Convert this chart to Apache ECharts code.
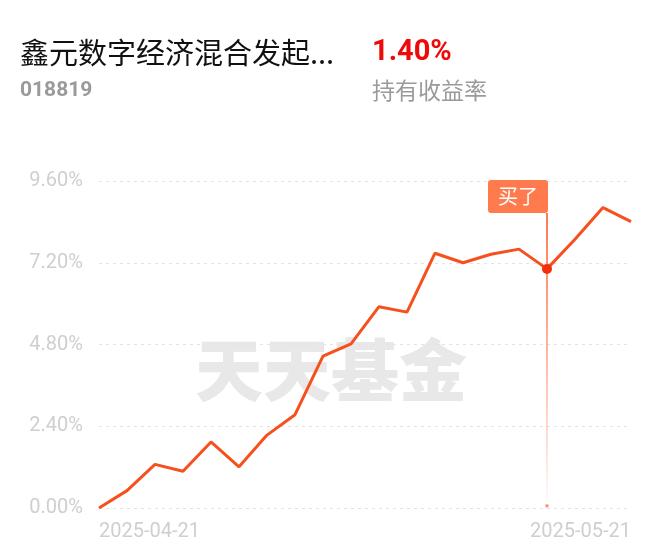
<!DOCTYPE html>
<html>
<head>
<meta charset="utf-8">
<script src="https://cdn.jsdelivr.net/npm/echarts@6/dist/echarts.min.js"></script>
<style>
html,body{margin:0;padding:0;background:#fff;}
#chart{width:662px;height:559px;}
</style>
</head>
<body>
<div id="chart"></div>
<script>
const fundName = '鑫元数字经济混合发起...';
const fundCode = '018819';
const holdReturn = '1.40%';
const holdReturnLabel = '持有收益率';
const watermark = '天天基金';
const buyLabel = '买了';
const buyDate = '2025-05-16';

const dates = ['2025-04-21','2025-04-22','2025-04-23','2025-04-24','2025-04-25',
  '2025-04-28','2025-04-29','2025-04-30','2025-05-06','2025-05-07','2025-05-08',
  '2025-05-09','2025-05-12','2025-05-13','2025-05-14','2025-05-15','2025-05-16',
  '2025-05-19','2025-05-20','2025-05-21'];
const returns = [0.00, 0.51, 1.28, 1.08, 1.94, 1.21, 2.14, 2.74, 4.46, 4.82, 5.91,
  5.75, 7.48, 7.20, 7.45, 7.60, 7.02, 7.89, 8.82, 8.41];
const yTicks = [0, 2.4, 4.8, 7.2, 9.6];

const buyIndex = dates.indexOf(buyDate);
const yMax = yTicks[yTicks.length - 1];

const chart = echarts.init(document.getElementById('chart'), null, {renderer: 'canvas'});
chart.setOption({
  animation: false,
  backgroundColor: '#fff',
  graphic: [
    {type: 'text', left: 20, top: 38, z: 10,
      style: {text: fundName, fontSize: 29, fill: '#111', letterSpacing: 3.6,
        fontFamily: '"Noto Sans CJK SC", sans-serif'}},
    {type: 'text', left: 20, top: 80, z: 10,
      style: {text: fundCode, fontSize: 21, fill: '#9a9a9a', fontWeight: 'bold',
        fontFamily: 'Roboto, sans-serif'}},
    {type: 'text', left: 372, top: 38, z: 10,
      style: {text: holdReturn, fontSize: 29, fill: '#ee0a0a', fontWeight: 'bold',
        letterSpacing: -2.2, fontFamily: 'Roboto, sans-serif'}},
    {type: 'text', left: 372, top: 79, z: 10,
      style: {text: holdReturnLabel, fontSize: 23, fill: '#9a9a9a',
        fontFamily: '"Noto Sans CJK SC", sans-serif'}},
    {type: 'text', left: 'center', top: 336, z: -1,
      style: {text: watermark, fontSize: 68, fill: '#e8e8e8', fontWeight: 900,
        fontFamily: '"Noto Sans CJK SC", sans-serif'}}
  ],
  grid: {left: 99, right: 31, top: 181, bottom: 51, containLabel: false},
  xAxis: {
    type: 'category',
    data: dates,
    boundaryGap: false,
    axisLine: {show: false},
    axisTick: {show: false},
    axisLabel: {
      color: '#cfcfcf', fontSize: 20, margin: 14,
      fontFamily: 'Roboto, sans-serif',
      interval: function (i) { return i === 0 || i === dates.length - 1; },
      alignMinLabel: 'left', alignMaxLabel: 'right'
    },
    splitLine: {show: false}
  },
  yAxis: {
    type: 'value',
    min: yTicks[0], max: yMax, interval: yTicks[1] - yTicks[0],
    axisLine: {show: false},
    axisTick: {show: false},
    axisLabel: {
      color: '#cfcfcf', fontSize: 20, margin: 16,
      fontFamily: 'Roboto, sans-serif',
      formatter: function (v) { return v.toFixed(2) + '%'; }
    },
    splitLine: {lineStyle: {color: '#e3e3e3', type: [3, 4], width: 1}}
  },
  series: [{
    type: 'line',
    data: returns,
    showSymbol: false,
    symbol: 'none',
    lineStyle: {color: '#f5501d', width: 3},
    z: 3,
    markLine: {
      silent: true,
      symbol: ['none', 'none'],
      label: {show: false},
      lineStyle: {
        width: 2, type: 'solid',
        color: new echarts.graphic.LinearGradient(0, 0, 0, 1, [
          {offset: 0, color: 'rgba(255,112,72,0.95)'},
          {offset: 1, color: 'rgba(255,112,72,0.03)'}
        ])
      },
      data: [[{coord: [buyIndex, yMax * 0.9025]}, {coord: [buyIndex, yMax * 0.02]}]]
    },
    markPoint: {
      silent: true,
      data: [
        {coord: [buyIndex, yMax * 0.9025], symbol: 'rect', symbolSize: 0,
          label: {show: true, formatter: buyLabel, position: 'inside',
            align: 'right', verticalAlign: 'bottom', offset: [1, 0],
            color: '#fff', fontSize: 20, lineHeight: 22, backgroundColor: '#ff7b4e',
            padding: [6, 10, 5, 10], borderRadius: 3,
            fontFamily: '"Noto Sans CJK SC", sans-serif'}},
        {coord: [buyIndex, returns[buyIndex]], symbol: 'circle', symbolSize: 10,
          itemStyle: {color: '#f2300e'}, label: {show: false}},
        {coord: [buyIndex, yMax * 0.0065], symbol: 'rect', symbolSize: [3, 3],
          itemStyle: {color: '#f39273'}, label: {show: false}}
      ]
    }
  }]
});
</script>
</body>
</html>
